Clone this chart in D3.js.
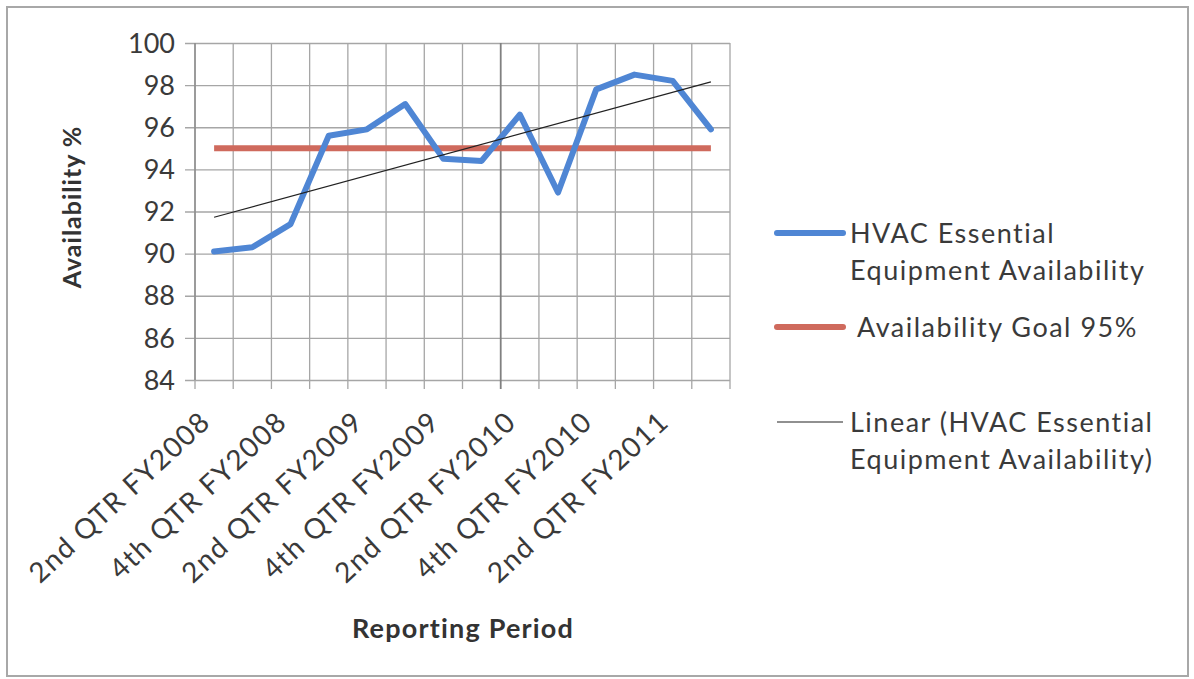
<!DOCTYPE html>
<html>
<head>
<meta charset="utf-8">
<script src="https://cdn.jsdelivr.net/npm/d3@7"></script>
<style>
  body { margin: 0; background: #fff; }
  text { font-family: Lato, "Open Sans", sans-serif; }
</style>
</head>
<body>
<div id="chart"></div>
<script>
// chart data
const categories = [
  "2nd QTR FY2008", "3rd QTR FY2008", "4th QTR FY2008",
  "1st QTR FY2009", "2nd QTR FY2009", "3rd QTR FY2009", "4th QTR FY2009",
  "1st QTR FY2010", "2nd QTR FY2010", "3rd QTR FY2010", "4th QTR FY2010",
  "1st QTR FY2011", "2nd QTR FY2011", "3rd QTR FY2011"
];
const availability = [90.1, 90.3, 91.4, 95.6, 95.9, 97.1, 94.5, 94.4, 96.6, 92.9, 97.8, 98.5, 98.2, 95.9];
const goal = [95, 95, 95, 95, 95, 95, 95, 95, 95, 95, 95, 95, 95, 95];
const yTicks = [84, 86, 88, 90, 92, 94, 96, 98, 100];
const shownLabels = ["2nd QTR FY2008", "4th QTR FY2008", "2nd QTR FY2009", "4th QTR FY2009",
  "2nd QTR FY2010", "4th QTR FY2010", "2nd QTR FY2011"];
const legendItems = [
  { lines: ["HVAC Essential", "Equipment Availability"], color: "#4f86d4", width: 6 },
  { lines: ["Availability Goal 95%"], color: "#cf6a5d", width: 6 },
  { lines: ["Linear (HVAC Essential", "Equipment Availability)"], color: "#222", width: 1.2 }
];

const W = 1194, H = 679;
const plot = { left: 195, right: 730, top: 43, bottom: 380 };

const svg = d3.select("#chart").append("svg")
  .attr("width", W).attr("height", H);

// outer chart border
svg.append("rect")
  .attr("x", 7).attr("y", 7)
  .attr("width", 1181).attr("height", 669)
  .attr("fill", "#fff")
  .attr("stroke", "#a8a8a8")
  .attr("stroke-width", 2);

const x = d3.scaleBand()
  .domain(categories)
  .range([plot.left, plot.right]);

const y = d3.scaleLinear()
  .domain([84, 100])
  .range([plot.bottom, plot.top]);

// horizontal gridlines + y axis
const yAxis = d3.axisLeft(y)
  .tickValues(yTicks)
  .tickSize(plot.right - plot.left + 10)
  .tickPadding(10)
  .tickFormat(d3.format("d"));

svg.append("g")
  .attr("transform", `translate(${plot.right}, 0)`)
  .call(yAxis)
  .call(g => g.select(".domain").remove())
  .call(g => g.selectAll(".tick line").attr("stroke", "#a6a6a6").attr("stroke-width", 1.3))
  .call(g => g.selectAll(".tick text")
    .attr("font-size", 27)
    .attr("fill", "#3a3a3a")
    .attr("dy", "0.34em"));

// vertical gridlines at category boundaries
const bounds = categories.map(c => x(c)).concat([plot.right]);
svg.append("g")
  .selectAll("line")
  .data(bounds)
  .join("line")
  .attr("x1", d => d).attr("x2", d => d)
  .attr("y1", plot.top).attr("y2", plot.bottom + 9)
  .attr("stroke", (d, i) => i === 8 ? "#808080" : "#a6a6a6")
  .attr("stroke-width", (d, i) => i === 8 ? 1.8 : 1.3);

// y axis line
svg.append("line")
  .attr("x1", plot.left).attr("x2", plot.left)
  .attr("y1", plot.top).attr("y2", plot.bottom)
  .attr("stroke", "#8c8c8c").attr("stroke-width", 1.5);

// x axis labels, rotated
svg.append("g")
  .selectAll("text")
  .data(shownLabels)
  .join("text")
  .attr("text-anchor", "end")
  .attr("font-size", 28)
  .attr("letter-spacing", 1.4)
  .attr("fill", "#3a3a3a")
  .attr("transform", d => `translate(${x(d) + x.bandwidth() / 2 - 2}, 424) rotate(-43)`)
  .text(d => d);

const cx = d => x(d) + x.bandwidth() / 2;

const line = d3.line()
  .x((d, i) => cx(categories[i]))
  .y(d => y(d));

// goal line
svg.append("path")
  .datum(goal)
  .attr("d", line)
  .attr("fill", "none")
  .attr("stroke", legendItems[1].color)
  .attr("stroke-width", 6);

// availability line
svg.append("path")
  .datum(availability)
  .attr("d", line)
  .attr("fill", "none")
  .attr("stroke", legendItems[0].color)
  .attr("stroke-width", 6)
  .attr("stroke-linejoin", "round")
  .attr("stroke-linecap", "round");

// linear trendline (least squares over the availability series)
const idx = availability.map((d, i) => i);
const mx = d3.mean(idx), my = d3.mean(availability);
const slope = d3.sum(idx, i => (i - mx) * (availability[i] - my)) / d3.sum(idx, i => (i - mx) * (i - mx));
const icpt = my - slope * mx;
const trend = idx.map(i => icpt + slope * i);

svg.append("path")
  .datum([trend[0], trend[trend.length - 1]])
  .attr("d", d3.line()
    .x((d, i) => cx(categories[i === 0 ? 0 : categories.length - 1]))
    .y(d => y(d)))
  .attr("fill", "none")
  .attr("stroke", "#222")
  .attr("stroke-width", 1.2);

// axis titles
svg.append("text")
  .attr("transform", "translate(81, 207) rotate(-90)")
  .attr("text-anchor", "middle")
  .attr("font-size", 25)
  .attr("letter-spacing", 1)
  .attr("font-weight", "bold")
  .attr("fill", "#333")
  .text("Availability %");

svg.append("text")
  .attr("x", 463).attr("y", 638)
  .attr("text-anchor", "middle")
  .attr("font-size", 27)
  .attr("letter-spacing", 1.2)
  .attr("font-weight", "bold")
  .attr("fill", "#333")
  .text("Reporting Period");

// legend
const legendY = [233, 327, 422];
const leg = svg.append("g");
legendItems.forEach((item, k) => {
  leg.append("line")
    .attr("x1", 777).attr("x2", 843)
    .attr("y1", legendY[k]).attr("y2", legendY[k])
    .attr("stroke", item.color)
    .attr("stroke-width", item.width)
    .attr("stroke-linecap", item.width > 2 ? "round" : "butt");
  item.lines.forEach((t, j) => {
    leg.append("text")
      .attr("x", k === 1 ? 857 : 850)
      .attr("y", legendY[k] + 10 + j * 37)
      .attr("font-size", 27)
      .attr("letter-spacing", 1.5)
      .attr("fill", "#3a3a3a")
      .text(t);
  });
});
</script>
</body>
</html>
